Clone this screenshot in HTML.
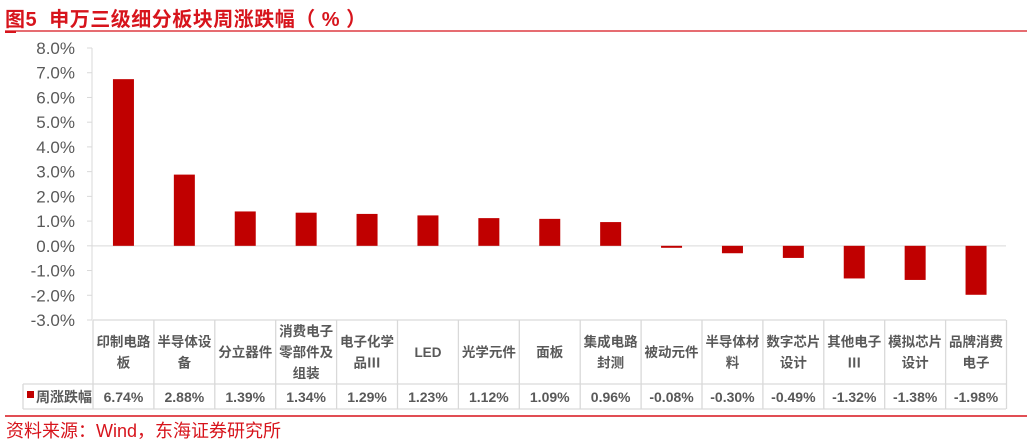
<!DOCTYPE html>
<html><head><meta charset="utf-8"><style>
body{margin:0;width:1032px;height:444px;background:#fff;overflow:hidden;font-family:"Liberation Sans","Noto Sans CJK SC",sans-serif}
</style></head><body>
<div style="position:absolute;left:5px;top:3px;font-size:20px;font-weight:bold;color:#d7141c;letter-spacing:0.5px;">图5&nbsp; 申万三级细分板块周涨跌幅（ % ）</div>
<svg id="c" width="1032" height="444" style="position:absolute;left:0;top:0"></svg>
<div style="position:absolute;left:6px;top:417px;font-size:18px;color:#d7141c;">资料来源：Wind，东海证券研究所</div>
<script>
const categories=[["印制电路","板"],["半导体设","备"],["分立器件"],["消费电子","零部件及","组装"],["电子化学","品Ⅲ"],["LED"],["光学元件"],["面板"],["集成电路","封测"],["被动元件"],["半导体材","料"],["数字芯片","设计"],["其他电子","Ⅲ"],["模拟芯片","设计"],["品牌消费","电子"]];
const values=[6.74,2.88,1.39,1.34,1.29,1.23,1.12,1.09,0.96,-0.08,-0.30,-0.49,-1.32,-1.38,-1.98];
const yTicks=[8,7,6,5,4,3,2,1,0,-1,-2,-3];
const NS="http://www.w3.org/2000/svg";
const svg=document.getElementById('c');
const x0=93,colW=60.9,yTop=48,yBot=320,yMax=8,yMin=-3;
const y=v=>yTop+(yMax-v)/(yMax-yMin)*(yBot-yTop);
const cx=i=>x0+colW*(i+0.5);
function mk(t,a,txt){const e=document.createElementNS(NS,t);for(const k in a)e.setAttribute(k,a[k]);if(txt!==undefined)e.textContent=txt;svg.appendChild(e);return e;}
let e;
e=mk('line',{x1:5,y1:31,x2:1027,y2:31,stroke:'#d7141c','stroke-width':1.2});

e=mk('line',{x1:5,y1:32,x2:16,y2:32,stroke:'#d7141c','stroke-width':2});

e=mk('line',{x1:92,y1:yTop,x2:92,y2:yBot,stroke:'#d9d9d9'});

yTicks.forEach(t=>{
 e=mk('line',{x1:87,y1:y(t),x2:92,y2:y(t),stroke:'#d9d9d9'});
 
 e=mk('text',{x:75,y:y(t)+6,'text-anchor':'end','font-size':17,fill:'#595959'},t.toFixed(1)+'%');
 
});
e=mk('line',{x1:92,y1:y(0),x2:1006,y2:y(0),stroke:'#d9d9d9'});

values.forEach((v,i)=>{
 const a=y(Math.max(v,0)),b=y(Math.min(v,0));
 e=mk('rect',{x:cx(i)-10.5,y:a,width:21,height:Math.max(b-a,1),fill:'#c00000'});
 
});
const tTop=320,tMid=384,tBot=409,tLeft=23;
const g='#d9d9d9';
[[x0,tTop,1006,tTop],[tLeft,tMid,1006,tMid],[tLeft,tBot,1006,tBot],[tLeft,tMid,tLeft,tBot]].forEach(l=>{
 e=mk('line',{x1:l[0],y1:l[1],x2:l[2],y2:l[3],stroke:g,'stroke-width':1.3});
 
});
for(let i=0;i<=categories.length;i++){
 const xx=x0+colW*i;
 e=mk('line',{x1:xx,y1:tTop,x2:xx,y2:tBot,stroke:g,'stroke-width':1.3});
 
}
categories.forEach((c,i)=>{
 const lh=21,start=(tTop+tMid)/2-(c.length-1)*lh/2+5;
 c.forEach((s,j)=>{
  e=mk('text',{x:cx(i),y:start+j*lh,'text-anchor':'middle','font-size':13.5,'font-weight':'bold',fill:'#595959'},s);
  
 });
 e=mk('text',{x:cx(i),y:402,'text-anchor':'middle','font-size':14,'font-weight':'bold',fill:'#595959'},values[i].toFixed(2)+'%');
 
});
e=mk('rect',{x:27,y:391,width:7,height:7,fill:'#c00000'});

e=mk('text',{x:36,y:402,'font-size':14,'font-weight':'bold',fill:'#595959'},'周涨跌幅');

e=mk('line',{x1:5,y1:416,x2:1027,y2:416,stroke:'#d7141c','stroke-width':1.5});

</script>
</body></html>
